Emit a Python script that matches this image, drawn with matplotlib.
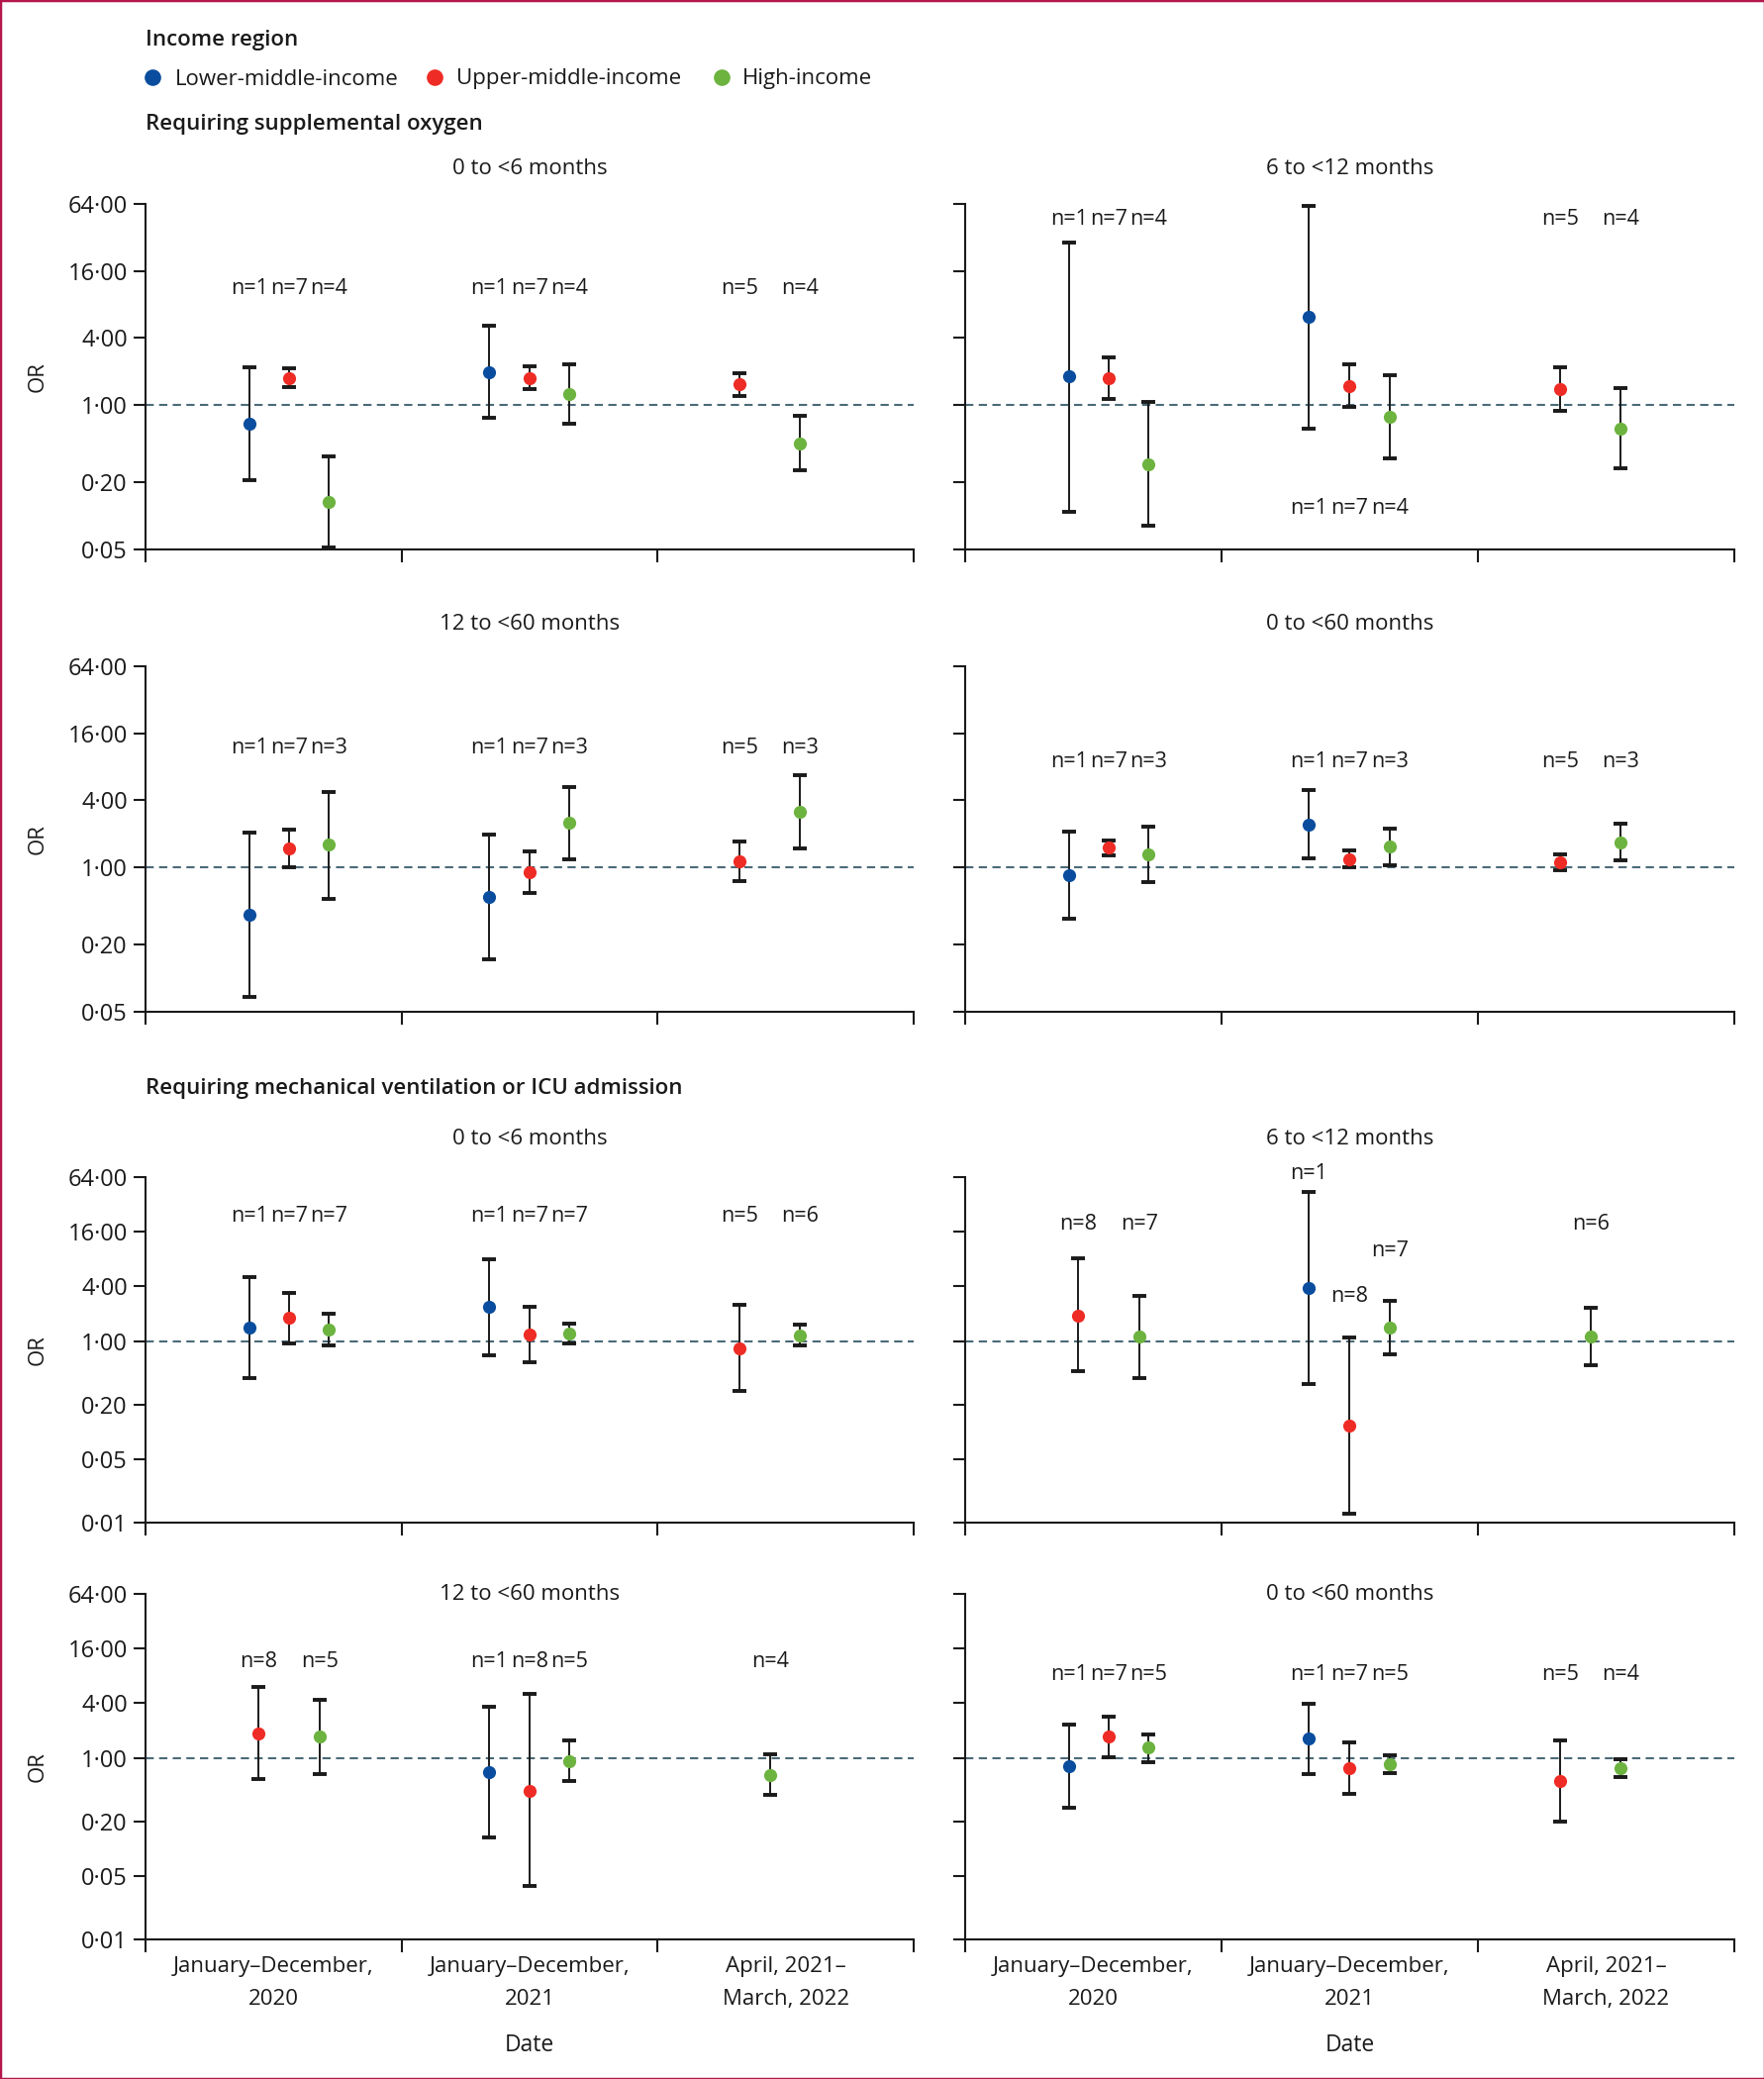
import numpy as np
import matplotlib
matplotlib.use('Agg')
import matplotlib.pyplot as plt
from matplotlib.lines import Line2D
from matplotlib.patches import Rectangle
from matplotlib.ticker import NullLocator

plt.rcParams['font.family'] = ['Open Sans', 'DejaVu Sans']

NAN = np.nan

# ---------------- data ----------------
series_names = ['Lower-middle-income', 'Upper-middle-income', 'High-income']
period_labels = ['January–December,\n2020', 'January–December,\n2021', 'April, 2021–\nMarch, 2022']
age_groups = ['0 to <6 months', '6 to <12 months', '12 to <60 months', '0 to <60 months']
outcomes = ['Requiring supplemental oxygen', 'Requiring mechanical ventilation or ICU admission']

# rows: lower-middle, upper-middle, high income; columns: the three periods
oxy_0_6_or = [[0.68, 1.98, NAN], [1.74, 1.74, 1.52], [0.134, 1.25, 0.45]]
oxy_0_6_lo = [[0.21, 0.76, NAN], [1.43, 1.39, 1.19], [0.052, 0.67, 0.26]]
oxy_0_6_hi = [[2.16, 5.13, NAN], [2.12, 2.20, 1.91], [0.34, 2.31, 0.79]]
oxy_0_6_n = [[1, 1, NAN], [7, 7, 5], [4, 4, 4]]

oxy_6_12_or = [[1.79, 6.13, NAN], [1.74, 1.48, 1.39], [0.29, 0.78, 0.61]]
oxy_6_12_lo = [[0.108, 0.61, NAN], [1.13, 0.95, 0.89], [0.081, 0.33, 0.27]]
oxy_6_12_hi = [[29.0, 61.8, NAN], [2.69, 2.31, 2.16], [1.05, 1.83, 1.41]]
oxy_6_12_n = [[1, 1, NAN], [7, 7, 5], [4, 4, 4]]

oxy_12_60_or = [[0.37, 0.535, NAN], [1.47, 0.90, 1.13], [1.59, 2.49, 3.13]]
oxy_12_60_lo = [[0.068, 0.148, NAN], [1.00, 0.59, 0.75], [0.52, 1.18, 1.48]]
oxy_12_60_hi = [[2.03, 1.95, NAN], [2.16, 1.39, 1.71], [4.74, 5.28, 6.70]]
oxy_12_60_n = [[1, 1, NAN], [7, 7, 5], [3, 3, 3]]

oxy_0_60_or = [[0.84, 2.42, NAN], [1.49, 1.18, 1.11], [1.31, 1.52, 1.67]]
oxy_0_60_lo = [[0.34, 1.19, NAN], [1.28, 0.99, 0.93], [0.74, 1.03, 1.14]]
oxy_0_60_hi = [[2.08, 4.93, NAN], [1.75, 1.42, 1.31], [2.32, 2.23, 2.47]]
oxy_0_60_n = [[1, 1, NAN], [7, 7, 5], [3, 3, 3]]

mech_0_6_or = [[1.41, 2.40, NAN], [1.79, 1.19, 0.83], [1.33, 1.21, 1.16]]
mech_0_6_lo = [[0.39, 0.70, NAN], [0.95, 0.59, 0.28], [0.89, 0.94, 0.89]]
mech_0_6_hi = [[5.06, 8.00, NAN], [3.41, 2.40, 2.50], [2.02, 1.54, 1.51]]
mech_0_6_n = [[1, 1, NAN], [7, 7, 5], [7, 7, 6]]

mech_6_12_or = [[NAN, 3.84, NAN], [1.92, 0.117, NAN], [1.12, 1.41, 1.12]]
mech_6_12_lo = [[NAN, 0.34, NAN], [0.47, 0.0126, NAN], [0.39, 0.72, 0.54]]
mech_6_12_hi = [[NAN, 43.6, NAN], [8.07, 1.09, NAN], [3.16, 2.79, 2.32]]
mech_6_12_n = [[NAN, 1, NAN], [8, 8, NAN], [7, 7, 6]]

mech_12_60_or = [[NAN, 0.70, NAN], [1.85, 0.435, NAN], [1.72, 0.93, 0.65]]
mech_12_60_lo = [[NAN, 0.133, NAN], [0.59, 0.0385, NAN], [0.67, 0.56, 0.39]]
mech_12_60_hi = [[NAN, 3.68, NAN], [6.00, 5.10, NAN], [4.34, 1.56, 1.09]]
mech_12_60_n = [[NAN, 1, NAN], [8, 8, NAN], [5, 5, 4]]

mech_0_60_or = [[0.81, 1.62, NAN], [1.70, 0.77, 0.55], [1.29, 0.86, 0.77]]
mech_0_60_lo = [[0.28, 0.66, NAN], [1.02, 0.40, 0.20], [0.89, 0.68, 0.61]]
mech_0_60_hi = [[2.34, 3.98, NAN], [2.85, 1.47, 1.54], [1.82, 1.08, 0.97]]
mech_0_60_n = [[1, 1, NAN], [7, 7, 5], [5, 5, 4]]

# ---------------- layout / style ----------------
COLORS = ['#0a4d9e', '#ee2c25', '#6cb33f']
DASH_COLOR = '#4b6a78'
INK = '#1a1a1a'

# x offsets of points inside a period, keyed by (period index, number of points)
OFFSETS = {(0, 3): [0.405, 0.56, 0.715], (0, 2): [0.44, 0.68],
           (1, 3): [0.34, 0.50, 0.655], (2, 2): [0.32, 0.556], (2, 1): [0.44]}

# vertical position (data units) of the n= labels, per period (scalar or per series)
LABEL_Y = {
    'oxy_0_6': [11.0, 11.0, 11.0],
    'oxy_6_12': [47, 0.117, 47],
    'oxy_12_60': [11.8, 11.8, 11.8],
    'oxy_0_60': [8.8, 8.8, 8.8],
    'mech_0_6': [24, 24, 24],
    'mech_6_12': [19.5, [70, 3.1, 9.8], 19.5],
    'mech_12_60': [11.6, 11.6, 11.6],
    'mech_0_60': [8.3, 8.3, 8.3],
}

panels = [
    (0, 0, 'oxy_0_6', oxy_0_6_or, oxy_0_6_lo, oxy_0_6_hi, oxy_0_6_n),
    (0, 1, 'oxy_6_12', oxy_6_12_or, oxy_6_12_lo, oxy_6_12_hi, oxy_6_12_n),
    (1, 0, 'oxy_12_60', oxy_12_60_or, oxy_12_60_lo, oxy_12_60_hi, oxy_12_60_n),
    (1, 1, 'oxy_0_60', oxy_0_60_or, oxy_0_60_lo, oxy_0_60_hi, oxy_0_60_n),
    (2, 0, 'mech_0_6', mech_0_6_or, mech_0_6_lo, mech_0_6_hi, mech_0_6_n),
    (2, 1, 'mech_6_12', mech_6_12_or, mech_6_12_lo, mech_6_12_hi, mech_6_12_n),
    (3, 0, 'mech_12_60', mech_12_60_or, mech_12_60_lo, mech_12_60_hi, mech_12_60_n),
    (3, 1, 'mech_0_60', mech_0_60_or, mech_0_60_lo, mech_0_60_hi, mech_0_60_n),
]
panel_titles = {(0, 0): age_groups[0], (0, 1): age_groups[1], (1, 0): age_groups[2], (1, 1): age_groups[3],
                (2, 0): age_groups[0], (2, 1): age_groups[1], (3, 0): age_groups[2], (3, 1): age_groups[3]}

W, H = 1783, 2100
fig = plt.figure(figsize=(W / 100, H / 100), dpi=100)
fig.patch.set_facecolor('white')


def fx(px):
    return px / W


def fy(py):
    return 1 - py / H


col_x = [147, 975]
col_w = [776, 777]
row_top = [206, 673, 1189, 1610]
row_h = 349
title_y = [170, 631, 1150, 1610]

yticks_a = [0.05, 0.2, 1, 4, 16, 64]
yticks_b = [0.01, 0.05, 0.2, 1, 4, 16, 64]


def fmt(v):
    return f'{v:.2f}'.replace('.', '·')


for (r, c, key, ors, los, his, ns) in panels:
    ax = fig.add_axes([fx(col_x[c]), fy(row_top[r] + row_h), col_w[c] / W, row_h / H])
    ax.set_yscale('log')
    ticks = yticks_a if r < 2 else yticks_b
    ax.set_ylim(ticks[0], ticks[-1])
    ax.set_xlim(0, 3)
    ax.axhline(1, color=DASH_COLOR, lw=1.5, dashes=(4, 2.6), zorder=1)

    for g in range(3):
        present = [s for s in range(3) if not np.isnan(ors[s][g])]
        offs = OFFSETS[(g, len(present))]
        ly = LABEL_Y[key][g]
        for s, off in zip(present, offs):
            x = g + off
            v = ors[s][g]
            ax.errorbar([x], [v], yerr=[[v - los[s][g]], [his[s][g] - v]], fmt='none',
                        ecolor=INK, elinewidth=1.4, capsize=5, capthick=2.8, zorder=2)
            ax.plot([x], [v], 'o', color=COLORS[s], ms=9.5, mec='none', zorder=3)
            yy = ly[s] if isinstance(ly, list) else ly
            ax.text(x, yy, f'n={int(ns[s][g])}', ha='center', va='center', fontsize=15.5,
                    color=INK, clip_on=False)

    for sp in ['top', 'right']:
        ax.spines[sp].set_visible(False)
    for sp in ['left', 'bottom']:
        ax.spines[sp].set_linewidth(1.5)
        ax.spines[sp].set_color(INK)

    ax.set_yticks(ticks)
    ax.yaxis.set_minor_locator(NullLocator())
    if c == 0:
        ax.set_yticklabels([fmt(t) for t in ticks])
        ax.set_ylabel('OR', fontsize=16, labelpad=14, color=INK)
    else:
        ax.set_yticklabels([])
    ax.set_xticks([0, 1, 2, 3])
    ax.set_xticklabels([])
    ax.xaxis.set_minor_locator(NullLocator())
    ax.tick_params(axis='both', which='major', direction='out', length=9, width=1.5,
                   color=INK, labelsize=17, labelcolor=INK, pad=4)
    if r == 3:
        xt = ax.get_xaxis_transform()
        for g, lab in enumerate(period_labels):
            ax.text(g + 0.5, -44 / row_h, lab, transform=xt, ha='center', va='center',
                    fontsize=16, linespacing=1.72, color=INK)
        ax.set_xlabel('Date', fontsize=16.5, color=INK, va='top')
        ax.xaxis.set_label_coords(0.5, -95 / row_h)

    cx = col_x[c] + col_w[c] / 2
    fig.text(fx(cx), fy(title_y[r]), panel_titles[(r, c)], ha='center', va='center',
             fontsize=16, color=INK)

# section headers
fig.text(fx(147), fy(126), outcomes[0], fontsize=16, weight='semibold', va='center', color=INK)
fig.text(fx(147), fy(1100), outcomes[1], fontsize=16, weight='semibold', va='center', color=INK)

# legend
fig.text(fx(147), fy(40.5), 'Income region', fontsize=16, weight='semibold', va='center', color=INK)
dot_x = [154, 439, 729]
txt_x = [177, 461, 750]
for s in range(3):
    fig.add_artist(Line2D([fx(dot_x[s])], [fy(78)], marker='o', ms=12, color=COLORS[s],
                          mec='none', transform=fig.transFigure))
    fig.text(fx(txt_x[s]), fy(80), series_names[s], fontsize=16, va='center', color=INK)

# frame
fig.add_artist(Rectangle((0, 0), 1, 1, transform=fig.transFigure, fill=False,
                         ec='#b3174d', lw=2.5))

fig.savefig('out.png', dpi=100, facecolor='white')
